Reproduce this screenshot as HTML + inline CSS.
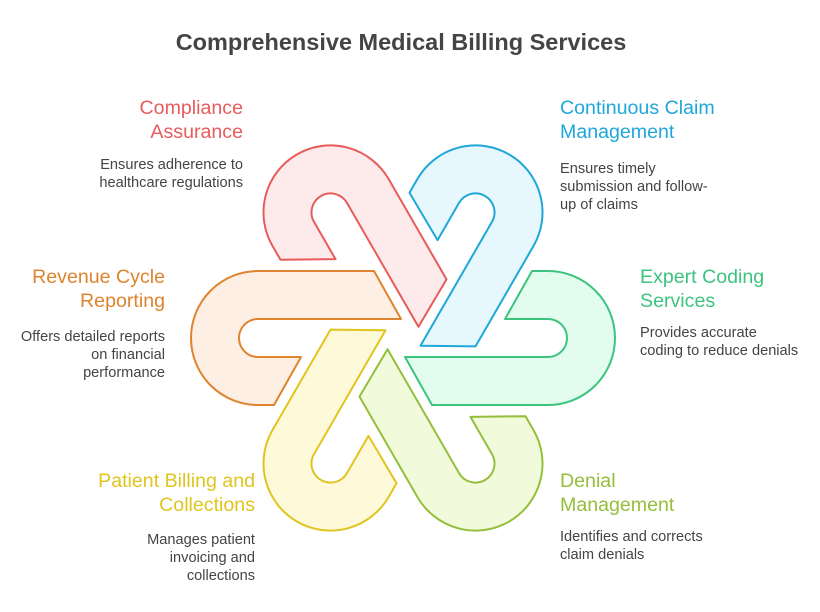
<!DOCTYPE html>
<html><head><style>
body{margin:0;width:820px;height:612px;background:#fff;font-family:"Liberation Sans",sans-serif;position:relative;overflow:hidden}
.t{position:absolute;font-size:19.6px;line-height:24px}
.d{position:absolute;font-size:14.6px;line-height:18px;color:#444}
.r{text-align:right}
</style></head><body>
<div style="position:absolute;left:0;width:802px;top:29px;text-align:center;font-size:23.5px;font-weight:bold;color:#444">Comprehensive Medical Billing Services</div>
<svg width="820" height="612" style="position:absolute;left:0;top:0">
<defs><path id="p" d="M-145,-67 L-29,-67 L-2,-19 L-145,-19 A19,19 0 0 0 -145,19 L-102,19 L-129,67 L-145,67 A67,67 0 0 1 -145,-67 Z" stroke-width="2" stroke-linejoin="round"/></defs>
<g transform="translate(403,338)">
<use href="#p" fill="#fdefe3" stroke="#e0832d"/>
<use href="#p" transform="rotate(60)" fill="#fdeaea" stroke="#e85b5b"/>
<use href="#p" transform="rotate(120)" fill="#e6f7fd" stroke="#1ea7d8"/>
<use href="#p" transform="rotate(180)" fill="#e2fcee" stroke="#3cc47f"/>
<use href="#p" transform="rotate(240)" fill="#f1fbdc" stroke="#94bf3a"/>
<use href="#p" transform="rotate(300)" fill="#fef9d8" stroke="#e0c520"/>
</g></svg>
<div class="t r" style="right:577px;top:96px;color:#e85b5b">Compliance<br>Assurance</div>
<div class="d r" style="right:577px;top:156px">Ensures adherence to<br>healthcare regulations</div>
<div class="t" style="left:560px;top:96px;color:#1ea7d8">Continuous Claim<br>Management</div>
<div class="d" style="left:560px;top:160px">Ensures timely<br>submission and follow-<br>up of claims</div>
<div class="t r" style="right:655px;top:265px;color:#e0832d">Revenue Cycle<br>Reporting</div>
<div class="d r" style="right:655px;top:328px">Offers detailed reports<br>on financial<br>performance</div>
<div class="t" style="left:640px;top:265px;color:#3cc47f">Expert Coding<br>Services</div>
<div class="d" style="left:640px;top:324px">Provides accurate<br>coding to reduce denials</div>
<div class="t r" style="right:565px;top:469px;color:#e0c520">Patient Billing and<br>Collections</div>
<div class="d r" style="right:565px;top:531px">Manages patient<br>invoicing and<br>collections</div>
<div class="t" style="left:560px;top:469px;color:#94bf3a">Denial<br>Management</div>
<div class="d" style="left:560px;top:528px">Identifies and corrects<br>claim denials</div>
</body></html>
